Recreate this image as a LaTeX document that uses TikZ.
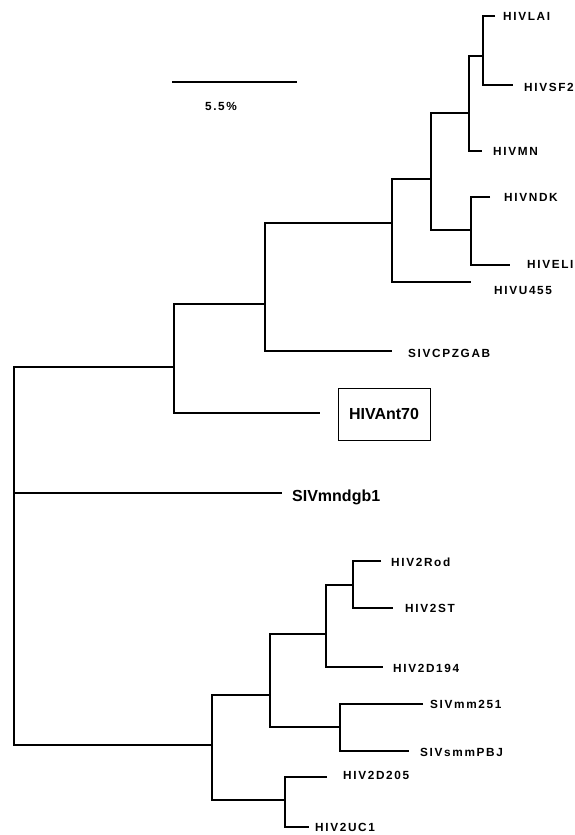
\documentclass[tikz,border=0pt]{standalone}
\usepackage{fontspec}
\setmainfont{Liberation Sans}
\newfontfamily\labfont[LetterSpace=14]{Liberation Sans}
\begin{document}
\begin{tikzpicture}[x=1pt,y=-1pt,
  branch/.style={line width=2.6pt,line join=miter},
  leaf/.style={anchor=base west,inner sep=0pt,font=\labfont\fontsize{11.8}{12}\bfseries},
  bigleaf/.style={anchor=base west,inner sep=0pt,font=\fontsize{16}{17}\bfseries},
  boxed/.style={draw,line width=0.9pt,inner sep=0pt,minimum width=92pt,minimum height=52pt,font=\fontsize{16}{17}\bfseries}]
\useasboundingbox (0,0) rectangle (574,835);
% internal nodes (x, y of the branch from the parent)
\coordinate (R) at (14,493);
\coordinate (A) at (174,367);
\coordinate (B) at (265,304);
\coordinate (C) at (392,223);
\coordinate (D) at (431,179);
\coordinate (E) at (469,113);
\coordinate (F) at (483,56);
\coordinate (G) at (471,230);
\coordinate (H) at (212,745);
\coordinate (I) at (270,695);
\coordinate (J) at (326,634);
\coordinate (K) at (353,585);
\coordinate (L) at (340,727);
\coordinate (M) at (285,800);
% leaf ends
\coordinate (lai) at (495,16);
\coordinate (sf2) at (513,85);
\coordinate (mn) at (482,151);
\coordinate (ndk) at (490,197);
\coordinate (eli) at (510,265);
\coordinate (u455) at (471,282);
\coordinate (cpz) at (392,351);
\coordinate (ant) at (320,413);
\coordinate (mnd) at (282,493);
\coordinate (rod) at (381,561);
\coordinate (st) at (393,608);
\coordinate (d194) at (383,667);
\coordinate (mm251) at (423,704);
\coordinate (pbj) at (409,751);
\coordinate (d205) at (327,777);
\coordinate (uc1) at (309,827);
% branches
\draw[branch] (A) -| (R) |- (H);
\draw[branch] (R) -- (mnd);
\draw[branch] (B) -| (A) |- (ant);
\draw[branch] (C) -| (B) |- (cpz);
\draw[branch] (D) -| (C) |- (u455);
\draw[branch] (E) -| (D) |- (G);
\draw[branch] (F) -| (E) |- (mn);
\draw[branch] (lai) -| (F) |- (sf2);
\draw[branch] (ndk) -| (G) |- (eli);
\draw[branch] (I) -| (H) |- (M);
\draw[branch] (J) -| (I) |- (L);
\draw[branch] (K) -| (J) |- (d194);
\draw[branch] (rod) -| (K) |- (st);
\draw[branch] (mm251) -| (L) |- (pbj);
\draw[branch] (d205) -| (M) |- (uc1);
% labels
\node[leaf] (tlai) at (503,20) {HIVLAI};
\node[leaf] (tsf2) at (524,91) {HIVSF2};
\node[leaf] (tmn) at (493,155) {HIVMN};
\node[leaf] (tndk) at (504,201) {HIVNDK};
\node[leaf] (teli) at (527,268) {HIVELI};
\node[leaf] (tu455) at (494,294) {HIVU455};
\node[leaf] (tcpz) at (408,357) {SIVCPZGAB};
\node[boxed] (tant) at (384,414) {HIVAnt70};
\node[bigleaf] (tmnd) at (292,501) {SIVmndgb1};
\node[leaf] (trod) at (391,566) {HIV2Rod};
\node[leaf] (tst) at (405,612) {HIV2ST};
\node[leaf] (td194) at (393,672) {HIV2D194};
\node[leaf] (tmm) at (430,708) {SIVmm251};
\node[leaf] (tpbj) at (420,756) {SIVsmmPBJ};
\node[leaf] (td205) at (343,779) {HIV2D205};
\node[leaf] (tuc1) at (315,831) {HIV2UC1};
% scale bar
\coordinate (sb1) at (172,82);
\coordinate (sb2) at (297,82);
\draw[branch] (sb1) -- (sb2);
\node[font=\labfont\fontsize{11.8}{12}\bfseries,inner sep=0pt] (sbl) at (221,106) {5.5\%};
\end{tikzpicture}
\end{document}
